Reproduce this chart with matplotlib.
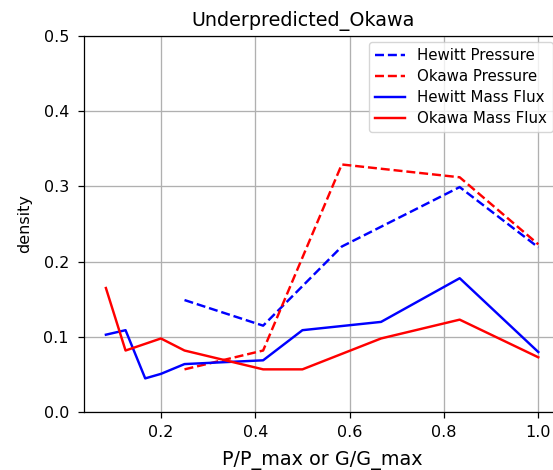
import matplotlib
matplotlib.use('Agg')
import matplotlib.pyplot as plt

# valori
x_press = [3/12, 5/12, 7/12, 10/12, 1.0]
hewitt_press = [0.149, 0.115, 0.220, 0.299, 0.219]
okawa_press = [0.057, 0.082, 0.329, 0.312, 0.223]

x_flux = [1/12, 1/8, 1/6, 0.2, 0.25, 5/12, 0.5, 2/3, 5/6, 1.0]
hewitt_flux = [0.103, 0.109, 0.045, 0.051, 0.064, 0.069, 0.109, 0.120, 0.178, 0.080]

x_flux_ok = [1/12, 1/8, 0.2, 0.25, 5/12, 0.5, 2/3, 5/6, 1.0]
okawa_flux = [0.165, 0.082, 0.098, 0.082, 0.057, 0.057, 0.098, 0.123, 0.073]

fig = plt.figure(figsize=(5.53, 4.70), dpi=100)
ax = fig.add_axes([0.1524, 0.1228, 0.8601, 0.8013])

lw = 1.75
ax.plot(x_press, hewitt_press, 'b--', lw=lw, label='Hewitt Pressure')
ax.plot(x_press, okawa_press, 'r--', lw=lw, label='Okawa Pressure')
ax.plot(x_flux, hewitt_flux, 'b-', lw=lw, label='Hewitt Mass Flux')
ax.plot(x_flux_ok, okawa_flux, 'r-', lw=lw, label='Okawa Mass Flux')

ax.set_ylim(0, 0.5)
ax.set_yticks([0.0, 0.1, 0.2, 0.3, 0.4, 0.5])
ax.set_xticks([0.2, 0.4, 0.6, 0.8, 1.0])
ax.tick_params(labelsize=11.5, length=4, width=0.9)
ax.tick_params(axis='y', pad=7)
ax.tick_params(axis='x', pad=5)
for s in ax.spines.values():
    s.set_linewidth(0.9)
ax.grid(True, lw=0.95)
ax.set_title('Underpredicted_Okawa', fontsize=13.8, x=0.461, pad=7)
ax.set_xlabel('P/P_max or G/G_max', fontsize=13.8, labelpad=8)
ax.set_ylabel('density', fontsize=11.5, labelpad=8)
ax.legend(loc='upper right', fontsize=10.8, labelspacing=0.4, borderaxespad=0.45)

fig.savefig('out.png', dpi=100)
